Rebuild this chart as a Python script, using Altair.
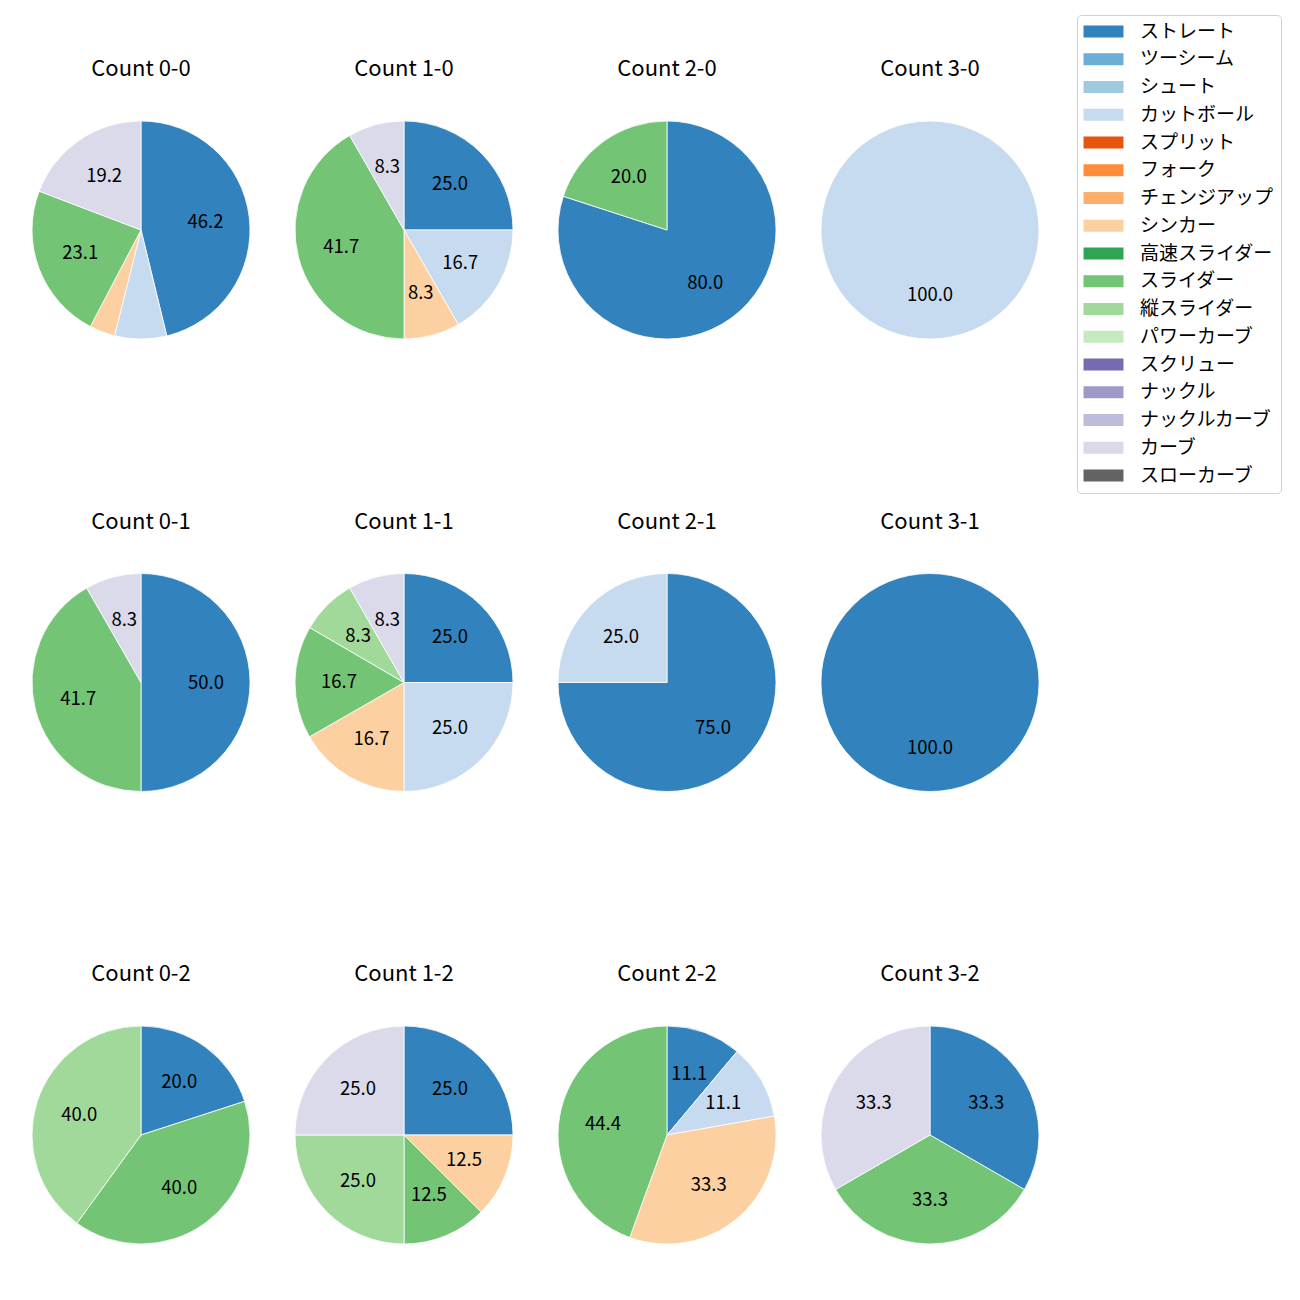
import altair as alt
import pandas as pd

pitch_types = ["ストレート", "ツーシーム", "シュート", "カットボール", "スプリット", "フォーク",
               "チェンジアップ", "シンカー", "高速スライダー", "スライダー", "縦スライダー",
               "パワーカーブ", "スクリュー", "ナックル", "ナックルカーブ", "カーブ", "スローカーブ"]
pitch_colors = ["#3182bd", "#6baed6", "#9ecae1", "#c6dbef", "#e6550d", "#fd8d3c",
                "#fdae6b", "#fdd0a2", "#31a354", "#74c476", "#a1d99b", "#c7e9c0",
                "#756bb1", "#9e9ac8", "#bcbddc", "#dadaeb", "#636363"]

count_titles = ["Count 0-0", "Count 1-0", "Count 2-0", "Count 3-0",
                "Count 0-1", "Count 1-1", "Count 2-1", "Count 3-1",
                "Count 0-2", "Count 1-2", "Count 2-2", "Count 3-2"]

# percentage share of each pitch type per count
count_0_0 = {"ストレート": 46.2, "カットボール": 7.7, "シンカー": 3.8, "スライダー": 23.1, "カーブ": 19.2}
count_1_0 = {"ストレート": 25.0, "カットボール": 16.7, "シンカー": 8.3, "スライダー": 41.7, "カーブ": 8.3}
count_2_0 = {"ストレート": 80.0, "スライダー": 20.0}
count_3_0 = {"カットボール": 100.0}
count_0_1 = {"ストレート": 50.0, "スライダー": 41.7, "カーブ": 8.3}
count_1_1 = {"ストレート": 25.0, "カットボール": 25.0, "シンカー": 16.7, "スライダー": 16.7,
             "縦スライダー": 8.3, "カーブ": 8.3}
count_2_1 = {"ストレート": 75.0, "カットボール": 25.0}
count_3_1 = {"ストレート": 100.0}
count_0_2 = {"ストレート": 20.0, "スライダー": 40.0, "縦スライダー": 40.0}
count_1_2 = {"ストレート": 25.0, "シンカー": 12.5, "スライダー": 12.5, "縦スライダー": 25.0, "カーブ": 25.0}
count_2_2 = {"ストレート": 11.1, "カットボール": 11.1, "シンカー": 33.3, "スライダー": 44.4}
count_3_2 = {"ストレート": 33.3, "スライダー": 33.3, "カーブ": 33.3}

count_values = [count_0_0, count_1_0, count_2_0, count_3_0,
                count_0_1, count_1_1, count_2_1, count_3_1,
                count_0_2, count_1_2, count_2_2, count_3_2]

rows = []
for title, vals in zip(count_titles, count_values):
    for p, v in vals.items():
        rows.append({
            "count": title,
            "pitch": p,
            "idx": pitch_types.index(p),
            "pct": v,
            "label": f"{v:.1f}" if v >= 8 else "",
        })
df = pd.DataFrame(rows)

JP = "Noto Sans CJK JP"

base = alt.Chart().encode(
    theta=alt.Theta("pct:Q", stack=True),
    order=alt.Order("idx:Q", sort="ascending"),
)

arc = base.mark_arc(outerRadius=109, stroke="white", strokeWidth=0.8).encode(
    color=alt.Color(
        "pitch:N",
        scale=alt.Scale(domain=pitch_types, range=pitch_colors),
        legend=alt.Legend(
            title=None,
            orient="none",
            legendX=1046,
            legendY=-105,
            symbolType="M-3.33,-1H3.33V1H-3.33Z",
            symbolSize=144,
            symbolOffset=10,
            symbolStrokeWidth=0,
            labelOffset=27,
            labelFont=JP,
            labelFontSize=19,
            labelColor="black",
            labelLimit=400,
            rowPadding=7.75,
            padding=7,
            strokeColor="#d0d0d0",
            fillColor="white",
            cornerRadius=4,
        ),
    )
)

text = base.mark_text(radius=65, font=JP, fontSize=18.5, color="black").encode(
    text="label:N"
)

chart = (
    alt.layer(arc, text, data=df)
    .properties(width=220, height=220)
    .facet(
        facet=alt.Facet(
            "count:N",
            sort=count_titles,
            header=alt.Header(
                title=None,
                labelFont=JP,
                labelFontSize=22,
                labelColor="black",
                labelPadding=38,
            ),
        ),
        columns=4,
        spacing={"row": 169.5, "column": 41},
    )
    .resolve_scale(theta="independent")
    .properties(padding={"left": 22, "top": 6, "right": 5, "bottom": 5})
    .configure_view(stroke=None)
)

chart.save("out.html", embed_options={"renderer": "svg", "actions": False})
